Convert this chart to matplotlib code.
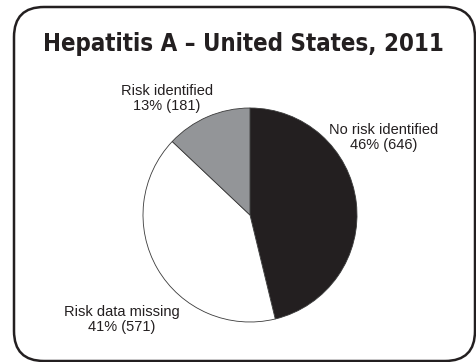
import matplotlib.pyplot as plt
from matplotlib.patches import FancyBboxPatch

# data
labels = ["No risk identified", "Risk data missing", "Risk identified"]
counts = [646, 571, 181]
percents = [46, 41, 13]
colors = ["#231f20", "#ffffff", "#939598"]

fig = plt.figure(figsize=(4.77, 3.62), dpi=100)
ax = fig.add_axes([0, 0, 1, 1])

# rounded frame
frame = FancyBboxPatch((14, 1), 461, 354,
                       boxstyle="round,pad=0,rounding_size=30",
                       facecolor="white", edgecolor="#231f20", linewidth=1.8)
ax.add_patch(frame)

ax.text(243, 318, "Hepatitis A \u2013 United States, 2011",
        ha="center", va="center", fontsize=17.2, fontweight="bold",
        family=["DejaVu Sans Condensed", "DejaVu Sans"], fontstretch="condensed",
        color="#231f20")

ax.pie(counts, colors=colors, startangle=90, counterclock=False,
       center=(250, 147), radius=107, frame=True,
       wedgeprops=dict(edgecolor="#3a3a3a", linewidth=0.6))
ax.set_xlim(0, 477)
ax.set_ylim(0, 362)
ax.set_aspect("equal")
ax.axis("off")

label_pos = [(384, 224.5), (122, 42.5), (167, 263.5)]
for lab, p, c, (x, y) in zip(labels, percents, counts, label_pos):
    ax.text(x, y, f"{lab}\n{p}% ({c})", ha="center", va="center",
            fontsize=10.5, family="Liberation Sans", color="#231f20",
            linespacing=1.1)

fig.savefig("out.png", dpi=100)
